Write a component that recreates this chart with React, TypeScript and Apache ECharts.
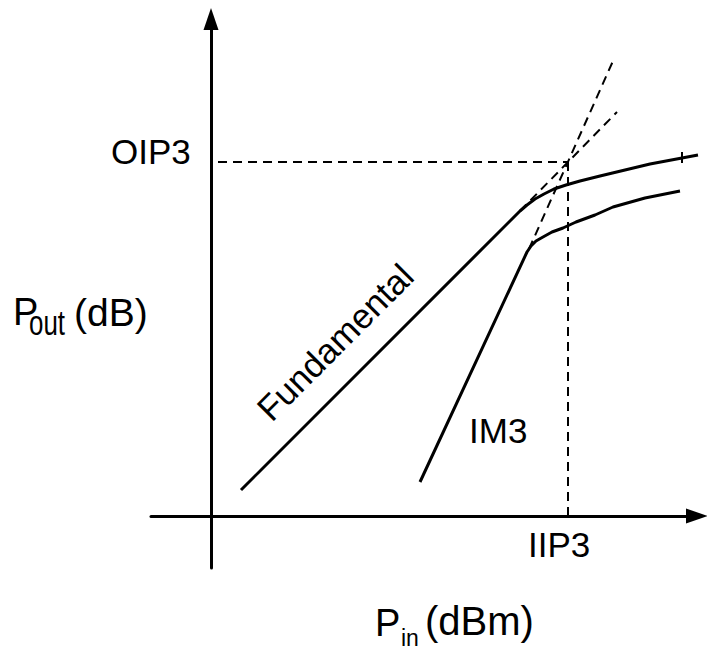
import React, { useEffect, useRef } from "react";
import * as echarts from "echarts";

// Schematic output-power curves (arbitrary linear units on both axes).
const fundamental: [number, number][] = [
  [30, 26], [302, 298], [309, 305], [316, 311], [324, 317], [333, 322],
  [343, 327], [355, 331], [369, 335], [389, 340], [414, 346], [439, 352],
  [487, 361],
];
const im3: [number, number][] = [
  [209, 34], [316, 264], [320, 270], [325, 275], [332, 279], [341, 284],
  [352, 288], [365, 294], [384, 301], [402, 309], [434, 318], [469, 325],
];
// Extrapolated small-signal asymptotes
const fundamentalExtrap: [number, number][] = [[309, 305], [406, 404]];
const im3Extrap: [number, number][] = [[318, 267], [402, 455]];
// Third-order intercept point
const intercept: [number, number] = [357, 354];
const oip3Guide: [number, number][] = [[7, intercept[1]], intercept];
const iip3Guide: [number, number][] = [intercept, [intercept[0], 0]];
const compressionTick: [number, number][] = [[471, 353], [471, 364]];

const FONT = "'Liberation Sans', Arial, Helvetica, sans-serif";

export default function App() {
  const ref = useRef<HTMLDivElement>(null);

  useEffect(() => {
    if (!ref.current) return;
    const chart = echarts.init(ref.current, null, { renderer: "svg" });

    const solid = { color: "#000", width: 3, type: "solid" as const };
    const dashed = { color: "#000", width: 2, type: [9, 6] as any };
    const lineSeries = (name: string, data: [number, number][], lineStyle: any) => ({
      name,
      type: "line",
      data,
      showSymbol: false,
      symbol: "none",
      lineStyle,
      silent: true,
      z: 3,
    });

    // Text placed by its baseline (central baseline sits ~0.3465em above it).
    const text = (
      t: string,
      x: number,
      baseline: number,
      size: number,
      extra: any = {}
    ) => ({
      type: "text",
      x,
      y: baseline - 0.3465 * size,
      silent: true,
      ...extra,
      style: {
        text: t,
        fill: "#000",
        font: `${size}px ${FONT}`,
        verticalAlign: "middle",
        ...(extra.style || {}),
      },
    });

    chart.setOption({
      animation: false,
      backgroundColor: "#fff",
      grid: { left: 151, top: 19, width: 546, height: 549 },
      xAxis: {
        type: "value",
        min: -60,
        max: 486,
        axisLine: {
          onZero: true,
          symbol: ["none", "triangle"],
          symbolSize: [15, 22],
          lineStyle: { color: "#000", width: 3 },
        },
        axisTick: { show: false },
        axisLabel: { show: false },
        splitLine: { show: false },
      },
      yAxis: {
        type: "value",
        min: -52,
        max: 497,
        axisLine: {
          show: true,
          onZero: true,
          symbol: ["none", "triangle"],
          symbolSize: [15, 22],
          lineStyle: { color: "#000", width: 3 },
        },
        axisTick: { show: false },
        axisLabel: { show: false },
        splitLine: { show: false },
      },
      series: [
        lineSeries("Fundamental", fundamental, solid),
        lineSeries("IM3", im3, solid),
        lineSeries("Fundamental extrapolation", fundamentalExtrap, dashed),
        lineSeries("IM3 extrapolation", im3Extrap, dashed),
        lineSeries("OIP3", oip3Guide, dashed),
        lineSeries("IIP3", iip3Guide, dashed),
        lineSeries("P1dB", compressionTick, { color: "#000", width: 2 }),
      ],
      graphic: [
        text("OIP3", 111, 164, 35),
        text("P", 13, 325, 38),
        text("out", 29, 335, 36, { scaleX: 0.72 }),
        text("(dB)", 74, 326, 39),
        {
          type: "text",
          x: 335,
          y: 342,
          rotation: Math.PI / 4,
          silent: true,
          style: {
            text: "Fundamental",
            fill: "#000",
            font: `35px ${FONT}`,
            align: "center",
            verticalAlign: "middle",
          },
        },
        text("IM3", 469, 443, 35),
        text("IIP3", 528, 557, 35),
        text("P", 375, 636, 38),
        text("in", 401, 646, 23),
        text("(dBm)", 425, 635, 40),
      ],
    });

    return () => chart.dispose();
  }, []);

  return (
    <div
      ref={ref}
      style={{ position: "fixed", left: 0, top: 0, width: 707, height: 650 }}
    />
  );
}
